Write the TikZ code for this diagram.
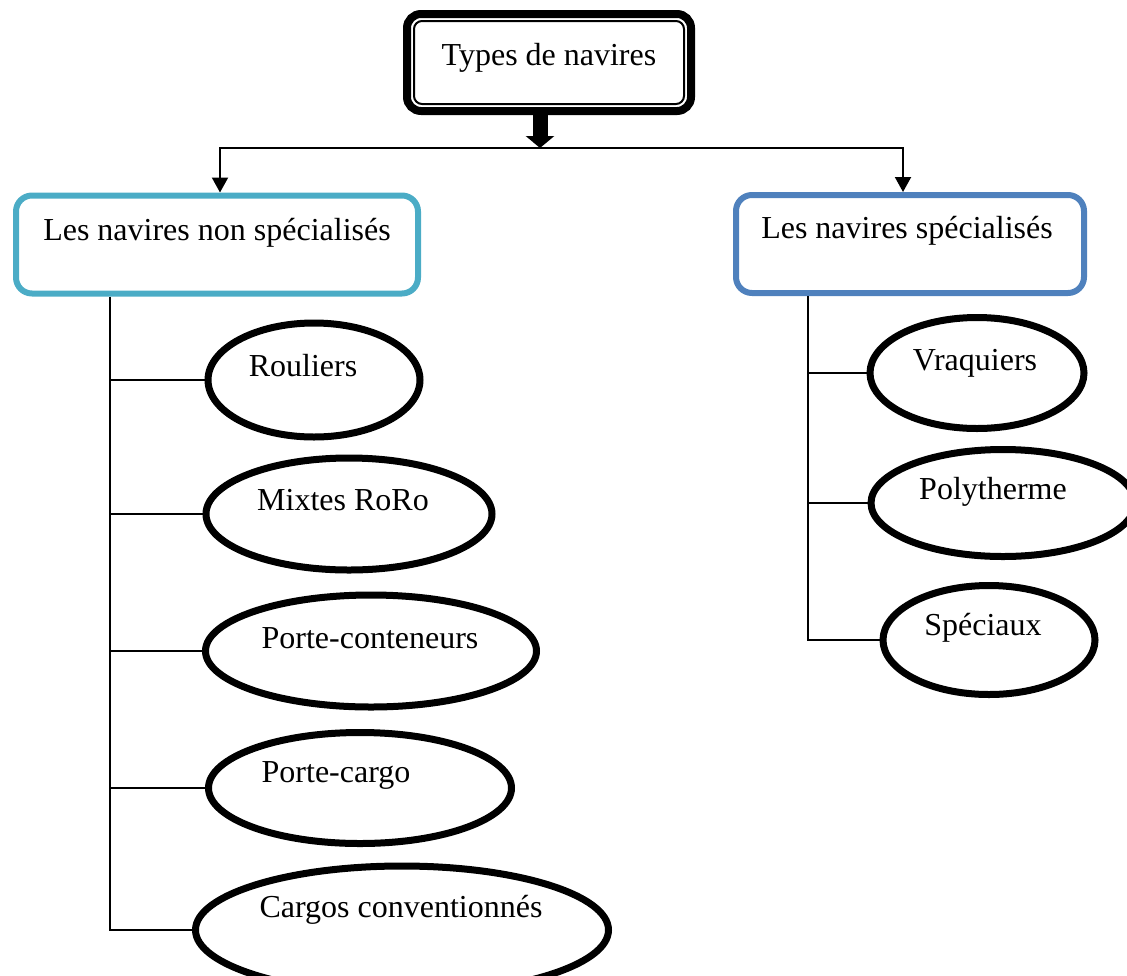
\documentclass[tikz,border=0pt]{standalone}
\usepackage{fontspec}
\setmainfont{Liberation Serif}
\usetikzlibrary{shapes.geometric, arrows.meta}
\definecolor{boxcyan}{HTML}{4BACC6}
\definecolor{boxblue}{HTML}{4F81BD}

\begin{document}
\begin{tikzpicture}[x=1pt, y=-1pt,
    every node/.style={font=\fontsize{32}{38}\selectfont, inner sep=0pt},
    txt/.style={anchor=base},
    ship/.style={draw, ellipse, line width=7pt},
    cat/.style={draw, rounded corners=16pt, line width=6pt, minimum height=98pt},
    link/.style={line width=2pt},
    down/.style={link, -{Triangle[width=16pt, length=15pt]}}]
  \useasboundingbox (0, 0) rectangle (1127, 975);
  \clip (0, 0) rectangle (1127, 975);

  % root
  \node [draw, rounded corners=14pt, line width=8pt, minimum width=284pt, minimum height=97pt] (types) at (549, 62.5) {};
  \draw [rounded corners=8pt, line width=2pt] ([shift={(11, 11)}]types.north west) rectangle ([shift={(-11, -11)}]types.south east);
  \node [txt] (types-t) at (549, 65) {Types de navires};

  % two families
  \node [cat, draw=boxcyan, minimum width=402pt] (nonspec) at (217, 244.5) {};
  \node [txt] (nonspec-t) at (217, 240) {Les navires non spécialisés};
  \node [cat, draw=boxblue, minimum width=348pt] (spec) at (910, 244) {};
  \node [txt] (spec-t) at (907, 238) {Les navires spécialisés};

  \coordinate (hub) at (540, 148);
  \draw [line width=15pt, -{Triangle[width=28pt, length=12pt]}] (types.south -| hub) -- (hub);
  \draw [down] (hub) -| ([xshift=3pt]nonspec.north);
  \draw [down] (hub) -| ([xshift=-7pt]spec.north);

  % non specialised ships
  \node [ship, minimum width=212pt, minimum height=114pt] (rouliers) at (314, 380) {};
  \node [txt] (rouliers-t) at (303, 376) {Rouliers};
  \node [ship, minimum width=286pt, minimum height=112pt] (mixtes) at (349, 514) {};
  \node [txt] (mixtes-t) at (343, 510) {Mixtes RoRo};
  \node [ship, minimum width=331pt, minimum height=112pt] (conteneurs) at (371, 651) {};
  \node [txt] (conteneurs-t) at (370, 648) {Porte-conteneurs};
  \node [ship, minimum width=303pt, minimum height=111pt] (cargo) at (360, 788) {};
  \node [txt] (cargo-t) at (336, 782) {Porte-cargo};
  \node [ship, minimum width=413pt, minimum height=128pt] (cargos) at (402, 930) {};
  \node [txt] (cargos-t) at (401, 917) {Cargos conventionnés};

  \coordinate (ltrunk) at (110, 0);
  \draw [link] (nonspec.south -| ltrunk) |- (cargos.west);
  \foreach \s in {rouliers, mixtes, conteneurs, cargo}
    \draw [link] (ltrunk |- \s.west) -- (\s.west);

  % specialised ships
  \node [ship, minimum width=214pt, minimum height=111pt] (vraquiers) at (977, 373) {};
  \node [txt] (vraquiers-t) at (975, 370) {Vraquiers};
  \node [ship, minimum width=264pt, minimum height=107pt] (polytherme) at (1003, 503) {};
  \node [txt] (polytherme-t) at (993, 499) {Polytherme};
  \node [ship, minimum width=212pt, minimum height=109pt] (speciaux) at (989, 640) {};
  \node [txt] (speciaux-t) at (983, 635) {Spéciaux};

  \coordinate (rtrunk) at (808, 0);
  \draw [link] (spec.south -| rtrunk) |- (speciaux.west);
  \foreach \s in {vraquiers, polytherme}
    \draw [link] (rtrunk |- \s.west) -- (\s.west);
\end{tikzpicture}
\end{document}
